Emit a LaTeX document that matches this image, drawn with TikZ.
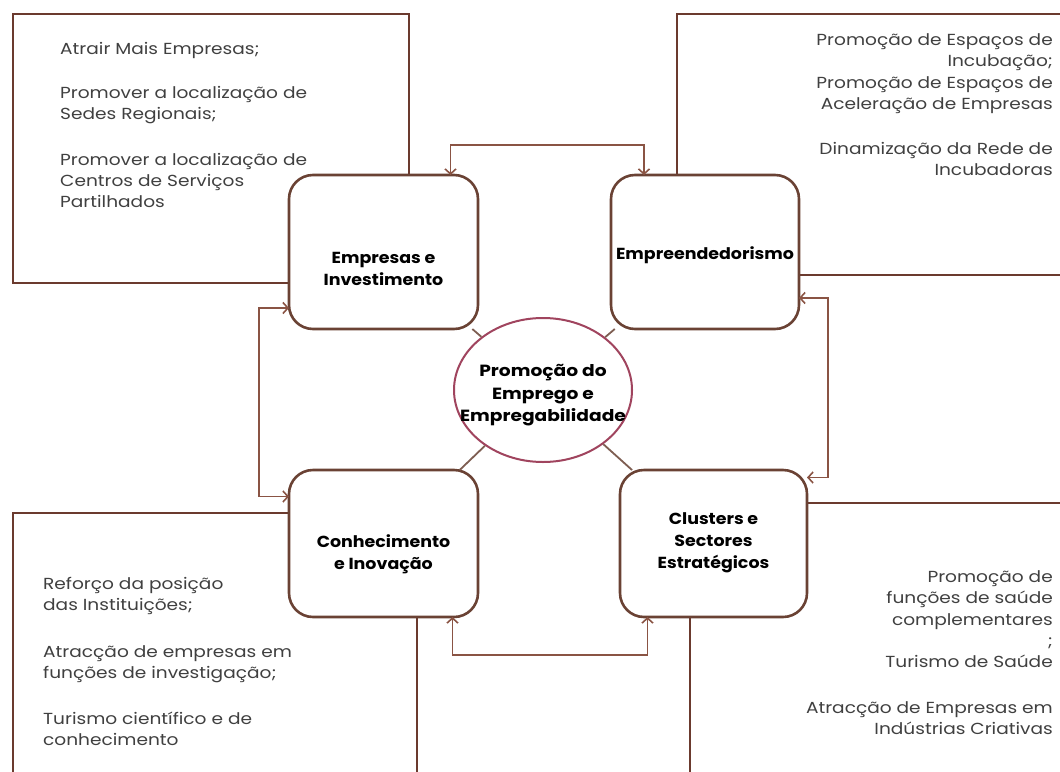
\documentclass[tikz,border=0pt]{standalone}
\usepackage{fontspec}
\setmainfont{Poppins}[FakeStretch=1.16]
\newfontfamily\titlefont{Poppins}[FakeStretch=1.09]
\newfontfamily\hubfont{Poppins}[FakeStretch=1.15]
\usetikzlibrary{arrows.meta,shapes.geometric,calc}
\definecolor{framec}{HTML}{6B3A2E}
\definecolor{boxc}{HTML}{6A4234}
\definecolor{ellc}{HTML}{A0445E}
\definecolor{linec}{HTML}{7E5E52}
\definecolor{arrc}{HTML}{8A5444}
\definecolor{txt}{HTML}{404040}
\begin{document}
\begin{tikzpicture}[x=1pt,y=-1pt,
  framebox/.style={draw=framec, line width=2.8pt},
  hubbox/.style={draw=boxc, line width=2.6pt, fill=white, rounded corners=24pt,
    inner sep=0pt, outer sep=0pt},
  hubtitle/.style={align=center, text=black, inner sep=0pt,
    font=\titlefont\fontsize{16}{22}\selectfont\bfseries},
  bodytext/.style={text=txt, inner sep=0pt, font=\fontsize{16}{21.3}\selectfont},
  link/.style={draw=linec, line width=1.8pt},
  twoway/.style={draw=arrc, line width=1.6pt,
    {Straight Barb[length=5pt,width=11pt]}-{Straight Barb[length=5pt,width=11pt]}}
]
\useasboundingbox (0,0) rectangle (1060,771);
\fill[white] (0,0) rectangle (1060,771);

% background frames
\draw[framebox] (13,14) rectangle (409,283);
\draw[framebox] (677,14) rectangle (1075,275);
\draw[framebox] (13,513) rectangle (417,790);
\draw[framebox] (690,503) rectangle (1075,790);

% frame texts
\node[bodytext, align=left, anchor=north west] (tl) at (60,42)
  {Atrair Mais Empresas;\\[23pt]
   Promover a localização de\\Sedes Regionais;\\[24pt]
   Promover a localização de\\Centros de Serviços\\Partilhados};
\node[bodytext, align=right, anchor=north east] (tr) at (1053,33.5)
  {Promoção de Espaços de\\Incubação;\\Promoção de Espaços de\\Aceleração de Empresas\\[23.5pt]
   Dinamização da Rede de\\Incubadoras};
\node[bodytext, align=left, anchor=north west] (bl) at (43,577)
  {Reforço da posição\\das Instituições;\\[25pt]
   Atracção de empresas em\\funções de investigação;\\[24.5pt]
   Turismo científico e de\\conhecimento};
\node[bodytext, align=right, anchor=north east] (br) at (1053,570.5)
  {Promoção de\\funções de saúde\\complementares\\;\\Turismo de Saúde\\[24pt]
   Atracção de Empresas em\\Indústrias Criativas};

% hub boxes
\node[hubbox, minimum width=189pt, minimum height=154pt] (emp) at (383.5,252) {};
\node[hubbox, minimum width=188pt, minimum height=154pt] (ent) at (705,252) {};
\node[hubbox, minimum width=189pt, minimum height=147pt] (con) at (383.5,543.5) {};
\node[hubbox, minimum width=187pt, minimum height=147pt] (clu) at (713.5,543.5) {};

\node[hubtitle] (empT) at (383.5,269) {Empresas e\\Investimento};
\node[hubtitle] (entT) at (705,255) {Empreendedorismo};
\node[hubtitle] (conT) at (383.5,554) {Conhecimento\\e Inovação};
\node[hubtitle] (cluT) at (713.5,543) {Clusters e\\Sectores\\Estratégicos};

% centre ellipse
\node[ellipse, draw=ellc, line width=2pt, fill=white, minimum width=178pt,
  minimum height=144pt, inner sep=0pt] (hub) at (543,390) {};
\node[align=center, inner sep=0pt, text=black,
  font=\hubfont\fontsize{16.2}{22.5}\selectfont\bfseries] (hubT) at (543,395.5)
  {Promoção do\\Emprego e\\Empregabilidade};

% links ellipse - boxes
\draw[link] (hub) -- (emp);
\draw[link] (hub) -- (ent);
\draw[link] (hub) -- (con);
\draw[link] (hub) -- (clu);

% two-way arrows
\draw[twoway] ([xshift=67pt]emp.north) -- ++(0,-30) -| ([xshift=-61pt]ent.north);
\draw[twoway] ([yshift=-56pt]emp.west) -- ++(-30,0) |- ([yshift=47pt]con.west);
\draw[twoway] ([yshift=-46pt]ent.east) -- ++(29,0) |- ([yshift=66pt]clu.east);
\draw[twoway] ([xshift=69pt]con.south) -- ++(0,38) -| ([xshift=-66pt]clu.south);
\end{tikzpicture}
\end{document}
